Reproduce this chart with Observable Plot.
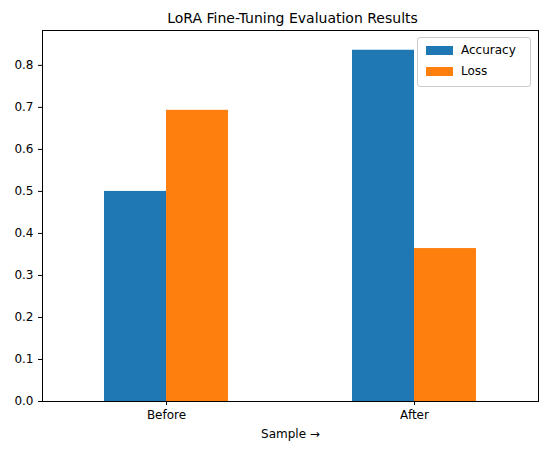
<!DOCTYPE html>
<html>
<head>
<meta charset="utf-8">
<script src="https://cdn.jsdelivr.net/npm/d3@7"></script>
<script src="https://cdn.jsdelivr.net/npm/@observablehq/plot@0.6"></script>
<style>
  body { margin: 0; background: #fff; font-family: "DejaVu Sans", sans-serif; }
  #wrap { position: relative; width: 547px; }
  #title { height: 28px; line-height: 36px; text-align: center; font-size: 14px; color: #000; padding-left: 38px; box-sizing: border-box; }
  #legend { position: absolute; left: 417px; top: 37px; width: 112px; height: 48px; border: 1px solid #ccc; border-radius: 3px; background: rgba(255,255,255,0.8); font-size: 12px; }
  .item { position: absolute; left: 8px; display: flex; align-items: center; }
  .sw { width: 27px; height: 9px; margin-right: 8px; }
</style>
</head>
<body>
<div id="wrap">
  <div id="title">LoRA Fine-Tuning Evaluation Results</div>
  <div id="chart"></div>
  <div id="legend">
    <div class="item" style="top:5px"><div class="sw" style="background:#1f77b4"></div>Accuracy</div>
    <div class="item" style="top:26px"><div class="sw" style="background:#ff7f0e"></div>Loss</div>
  </div>
</div>
<script>
const samples = ['Before', 'After']
const accuracy = [0.5, 0.836]
const loss = [0.693, 0.364]
const series = ['Accuracy', 'Loss']
const colors = ['#1f77b4', '#ff7f0e']

// tabla larga: cada barra con su índice de categoría y de serie
const rows = []
samples.forEach((s, i) => {
  rows.push({i, k: 0, serie: series[0], value: accuracy[i]})
  rows.push({i, k: 1, serie: series[1], value: loss[i]})
})

const chart = Plot.plot({
  width: 547,
  height: 427,
  marginTop: 2,
  marginLeft: 42,
  marginRight: 9,
  marginBottom: 54,
  style: {fontSize: '12px', fontFamily: '"DejaVu Sans", sans-serif', color: '#000', background: '#fff'},
  x: {domain: [-0.5, samples.length - 0.5], ticks: samples.map((d, i) => i), tickFormat: i => samples[i], label: 'Sample', labelAnchor: 'center', labelOffset: 36, tickSize: 4},
  y: {domain: [0, 0.883], ticks: d3.range(0, 0.81, 0.1), tickFormat: d3.format('.1f'), label: null, tickSize: 4},
  color: {domain: series, range: colors},
  marks: [
    Plot.rectY(rows, {x1: d => d.i - 0.25 + d.k * 0.25, x2: d => d.i + d.k * 0.25, y1: 0, y2: 'value', fill: 'serie'}),
    Plot.frame({stroke: '#000'})
  ]
})
d3.select('#chart').append(() => chart)
</script>
</body>
</html>
